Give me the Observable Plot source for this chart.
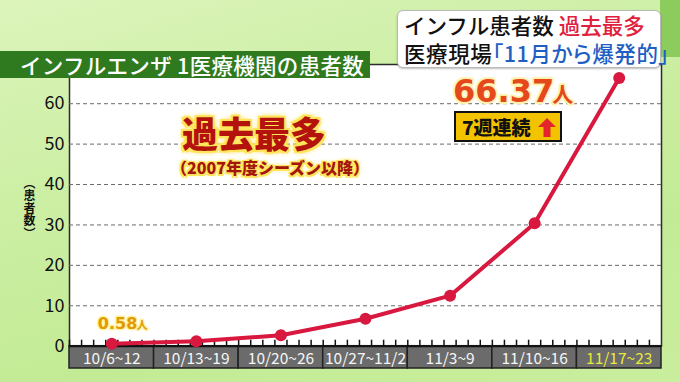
<!DOCTYPE html>
<html><head><meta charset="utf-8">
<script src="https://cdn.jsdelivr.net/npm/d3@7"></script>
<script src="https://cdn.jsdelivr.net/npm/@observablehq/plot@0.6"></script>
<style>
html,body{margin:0;padding:0;}
body{width:680px;height:382px;overflow:hidden;font-family:"Noto Sans CJK JP","Noto Sans",sans-serif;}
#wrap{position:relative;width:680px;height:382px;overflow:hidden;
  background:linear-gradient(165deg,#dcf4bb 0%,#cdefa5 35%,#c3eb95 70%,#c9ee9e 100%);}
#chart{position:absolute;left:0;top:0;}
.ov{position:absolute;white-space:nowrap;}
#tr{left:660px;top:0;width:20px;height:57px;background:#8ccc5c;}
#title{left:0;top:51px;width:350px;height:27px;padding-left:20px;background:#2f7a1f;color:#fff;
  font-size:21.5px;line-height:27px;font-weight:500;letter-spacing:0.3px;}
#callout{left:397px;top:10px;width:252px;height:56px;padding:0 4px 0 6px;background:#fff;border:1.5px solid #b9b9b9;border-radius:6px;
  box-shadow:0 1px 2px rgba(0,0,0,0.25);font-size:21.5px;font-weight:500;line-height:28px;color:#111;}
#callout .l2{font-feature-settings:"palt";letter-spacing:0.6px;}
#callout .r{color:#e0203c;}
#callout .b{color:#1f5fc4;}
#big{left:254px;top:132px;transform:translate(-50%,-50%);font-size:36px;font-weight:900;color:#b3120d;line-height:1;
  text-shadow:-2px -2px 0 #ffe55a,2px -2px 0 #ffe55a,-2px 2px 0 #ffe55a,2px 2px 0 #ffe55a,0 0 5px #ffd21a,0 0 7px #ffe066;}
#sub{left:270px;top:167px;transform:translate(-50%,-50%);font-size:16px;font-weight:900;color:#a3160e;line-height:1;
  text-shadow:-1.5px -1.5px 0 #ffe55a,1.5px -1.5px 0 #ffe55a,-1.5px 1.5px 0 #ffe55a,1.5px 1.5px 0 #ffe55a,0 0 4px #ffd21a;}
#streak{left:454px;top:111px;width:104px;height:27px;background:#f3c300;border:2px solid #111;
  font-size:19px;font-weight:900;color:#111;line-height:27px;text-align:left;}
#streak span{margin-left:6px;}
#streak svg{position:absolute;left:82px;top:5px;}
#ylab{left:23px;top:177px;writing-mode:vertical-rl;text-orientation:upright;font-family:"Noto Sans CJK JP";
  font-size:12px;font-weight:700;color:#111;line-height:13px;letter-spacing:0.5px;}
</style></head><body><div id="wrap">
<div class="ov" id="tr"></div>
<div id="chart"></div>
<div class="ov" id="title">インフルエンザ 1医療機関の患者数</div>
<div class="ov" id="callout"><div>インフル患者数 <span class="r">過去最多</span></div><div class="l2">医療現場<span class="b">「11月から爆発的」</span></div></div>
<div class="ov" id="big">過去最多</div>
<div class="ov" id="sub">（2007年度シーズン以降）</div>
<div class="ov" id="streak"><span>7週連続</span><svg width="18" height="19" viewBox="0 0 18 19"><polygon points="9,0 18,9 12.5,9 12.5,19 5.5,19 5.5,9 0,9" fill="#e3262b"/></svg></div>
<div class="ov" id="ylab">（患者数）</div>
</div>
<script>
const weekLabels = ["10/6~12","10/13~19","10/20~26","10/27~11/2","11/3~9","11/10~16","11/17~23"];
const weekStarts = ["2025-10-06","2025-10-13","2025-10-20","2025-10-27","2025-11-03","2025-11-10","2025-11-17"];
const patients = [0.58, 1.2, 2.7, 6.8, 12.5, 30.4, 66.37];
const yTicks = [0, 10, 20, 30, 40, 50, 60];
const gridTicks = [10, 20, 30, 40, 50, 60];
const unit = "人";

const FONT = '"Noto Sans CJK JP","Noto Sans",sans-serif';
const NUMFONT = '"DejaVu Sans",sans-serif';
const weeks = weekStarts.map((s, i) => {
  const start = new Date(s + "T00:00:00Z");
  return {label: weekLabels[i], start, end: d3.utcDay.offset(start, 7), mid: d3.utcHour.offset(start, 84),
          value: patients[i], last: i === weekStarts.length - 1};
});
const first = weeks[0], last = weeks[weeks.length - 1];
const days = d3.utcDays(first.start, last.end);

const plot = Plot.plot({
  width: 680, height: 382,
  marginLeft: 69, marginRight: 19, marginTop: 64, marginBottom: 36.3,
  style: {background: "transparent", fontFamily: FONT, overflow: "visible"},
  x: {type: "utc", domain: [first.start, last.end], axis: null},
  y: {domain: [0, 69.7], axis: null},
  marks: [
    Plot.frame({fill: "white", stroke: "#2b2b2b", strokeWidth: 1.5}),
    Plot.gridY(gridTicks, {stroke: "#6a6a6a", strokeOpacity: 1, strokeDasharray: "4,3"}),
    Plot.rect(weeks, {x1: "start", x2: "end", y1: 0, y2: 0, insetBottom: -22.3, fill: "#6b6b6b", stroke: "#222", strokeWidth: 1.5}),
    Plot.ruleX(days, {x: d => d, y1: 0, y2: 0, insetTop: -6, stroke: "#111", strokeWidth: 1.5}),
    Plot.ruleY([0], {stroke: "#111", strokeWidth: 2}),
    Plot.axisY(yTicks, {tickSize: 0, tickPadding: 5, fontSize: 18, color: "#111", label: null}),
    Plot.text(weeks, {x: "mid", y: 0, dy: 12.6, text: "label", lineAnchor: "middle",
      fill: d => d.last ? "#e8ea3a" : "#f6f6f6", fontSize: 15.5}),
    Plot.line(weeks, {x: "mid", y: "value", stroke: "#d8183f", strokeWidth: 4}),
    Plot.dot(weeks, {x: "mid", y: "value", r: 6, fill: "#d8183f"}),
    Plot.text([first], {x: "mid", y: "value", text: d => d.value.toFixed(2), textAnchor: "end", lineAnchor: "middle",
      dx: 25.5, dy: -19.5, fontSize: 16, fontFamily: NUMFONT, fontWeight: "bold", letterSpacing: "2px",
      fill: "#e39a00", stroke: "#fff3a8", strokeWidth: 3, paintOrder: "stroke"}),
    Plot.text([first], {x: "mid", y: "value", text: () => unit, textAnchor: "start", lineAnchor: "middle",
      dx: 25, dy: -18, fontSize: 11, fontWeight: "bold", fill: "#e39a00", stroke: "#fff3a8", strokeWidth: 3, paintOrder: "stroke"}),
    Plot.text([last], {x: "mid", y: "value", text: d => d.value.toFixed(2), textAnchor: "end", lineAnchor: "middle",
      dx: -65, dy: 13.5, fontSize: 32, fontFamily: NUMFONT, fontWeight: "bold", letterSpacing: "3.5px",
      fill: "#e4481c", stroke: "#fff2b0", strokeWidth: 4, paintOrder: "stroke"}),
    Plot.text([last], {x: "mid", y: "value", text: () => unit, textAnchor: "start", lineAnchor: "middle",
      dx: -67, dy: 17, fontSize: 21, fontWeight: "bold", fill: "#e4481c", stroke: "#fff2b0", strokeWidth: 4, paintOrder: "stroke"})
  ]
});
document.getElementById("chart").appendChild(plot);
</script>
</body></html>
